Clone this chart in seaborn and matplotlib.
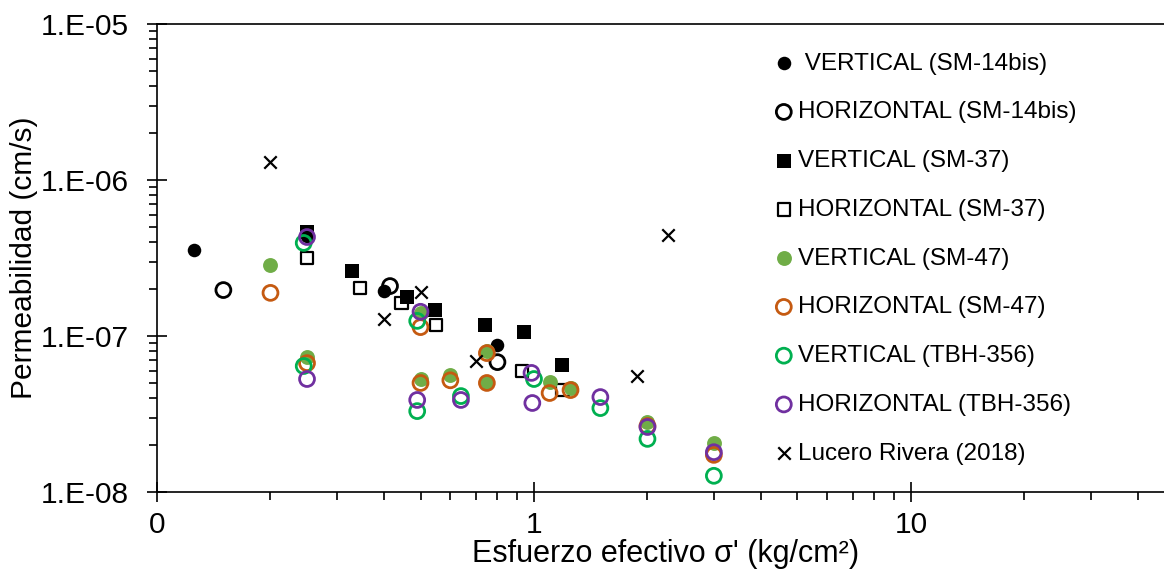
import numpy as np
import pandas as pd
import matplotlib
matplotlib.use("Agg")
import matplotlib.pyplot as plt
from matplotlib.ticker import LogLocator, FuncFormatter, NullFormatter
import seaborn as sns

# Permeability (cm/s) vs effective stress (kg/cm2), per sample and direction
v14_x = [0.125, 0.25, 0.40, 0.80]
v14_y = [3.56e-7, 4.4e-7, 1.94e-7, 8.8e-8]

h14_x = [0.15, 0.415, 0.80]
h14_y = [1.97e-7, 2.09e-7, 6.8e-8]

v37_x = [0.25, 0.33, 0.46, 0.545, 0.74, 0.94, 1.19]
v37_y = [4.64e-7, 2.61e-7, 1.78e-7, 1.47e-7, 1.18e-7, 1.06e-7, 6.5e-8]

h37_x = [0.25, 0.345, 0.445, 0.55, 0.93, 1.19]
h37_y = [3.16e-7, 2.03e-7, 1.63e-7, 1.18e-7, 5.97e-8, 4.5e-8]

v47_x = [0.20, 0.25, 0.50, 0.50, 0.60, 0.75, 0.75, 1.10, 1.25, 2.0, 3.0]
v47_y = [2.85e-7, 7.3e-8, 1.41e-7, 5.3e-8, 5.62e-8, 8.0e-8, 5.07e-8, 5.1e-8, 4.64e-8, 2.81e-8, 2.06e-8]

h47_x = [0.20, 0.25, 0.50, 0.50, 0.60, 0.75, 0.75, 1.10, 1.25, 2.0, 3.0]
h47_y = [1.89e-7, 6.7e-8, 1.14e-7, 5.0e-8, 5.2e-8, 7.77e-8, 5.0e-8, 4.31e-8, 4.5e-8, 2.65e-8, 1.73e-8]

vtbh_x = [0.245, 0.245, 0.49, 0.49, 0.64, 1.0, 1.5, 2.0, 3.0]
vtbh_y = [3.95e-7, 6.42e-8, 1.25e-7, 3.3e-8, 4.12e-8, 5.3e-8, 3.45e-8, 2.19e-8, 1.27e-8]

htbh_x = [0.25, 0.25, 0.50, 0.49, 0.64, 0.985, 0.99, 1.5, 2.0, 3.0]
htbh_y = [4.31e-7, 5.3e-8, 1.43e-7, 3.89e-8, 3.89e-8, 5.8e-8, 3.72e-8, 4.06e-8, 2.61e-8, 1.8e-8]

lr_x = [0.20, 0.40, 0.50, 0.70, 2.27, 1.88]
lr_y = [1.3e-6, 1.29e-7, 1.91e-7, 6.9e-8, 4.44e-7, 5.55e-8]

labels = [" VERTICAL (SM-14bis)", "HORIZONTAL (SM-14bis)", "VERTICAL (SM-37)",
          "HORIZONTAL (SM-37)", "VERTICAL (SM-47)", "HORIZONTAL (SM-47)",
          "VERTICAL (TBH-356)", "HORIZONTAL (TBH-356)", "Lucero Rivera (2018)"]

sns.set_style("white")
plt.rcParams["font.family"] = ["Liberation Sans", "DejaVu Sans"]
plt.rcParams["text.color"] = "black"
plt.rcParams["axes.labelcolor"] = "black"

fig = plt.figure(figsize=(11.64, 5.71), dpi=100)
ax = fig.add_axes([157 / 1164, 79 / 571, 1 - 157 / 1164, 468 / 571])

series = [
    (v14_x, v14_y, dict(marker="o", s=95, color="black", edgecolor="black", linewidth=0)),
    (h14_x, h14_y, dict(marker="o", s=115, facecolor="none", edgecolor="black", linewidth=2.0)),
    (v37_x, v37_y, dict(marker="s", s=95, color="black", edgecolor="black", linewidth=0)),
    (h37_x, h37_y, dict(marker="s", s=80, facecolor="none", edgecolor="black", linewidth=1.6)),
    (v47_x, v47_y, dict(marker="o", s=115, color="#70AD47", edgecolor="#70AD47", linewidth=0)),
    (h47_x, h47_y, dict(marker="o", s=115, facecolor="none", edgecolor="#C55A11", linewidth=2.0)),
    (vtbh_x, vtbh_y, dict(marker="o", s=115, facecolor="none", edgecolor="#00B050", linewidth=2.0)),
    (htbh_x, htbh_y, dict(marker="o", s=115, facecolor="none", edgecolor="#7030A0", linewidth=2.0)),
    (lr_x, lr_y, dict(marker="x", s=80, color="black", linewidth=1.6)),
]

for (xs, ys, style), lab in zip(series, labels):
    df = pd.DataFrame({"x": xs, "y": ys})
    sns.scatterplot(data=df, x="x", y="y", ax=ax, label=lab, **style)

ax.set_xscale("log")
ax.set_yscale("log")
ax.set_xlim(0.1, 46.9)
ax.set_ylim(1e-8, 1e-5)

ax.xaxis.set_major_locator(LogLocator(base=10, numticks=10))
ax.xaxis.set_minor_locator(LogLocator(base=10, subs=np.arange(2, 10), numticks=20))
ax.yaxis.set_major_locator(LogLocator(base=10, numticks=10))
ax.yaxis.set_minor_locator(LogLocator(base=10, subs=np.arange(2, 10), numticks=20))
ax.xaxis.set_major_formatter(FuncFormatter(lambda v, p: f"{v:.0f}"))
ax.yaxis.set_major_formatter(FuncFormatter(lambda v, p: f"1.E-{int(round(-np.log10(v))):02d}"))
ax.xaxis.set_minor_formatter(NullFormatter())
ax.yaxis.set_minor_formatter(NullFormatter())

for side in ["left", "bottom", "top"]:
    ax.spines[side].set_visible(True)
    ax.spines[side].set_color("black")
    ax.spines[side].set_linewidth(1.2)
ax.spines["right"].set_visible(False)

ax.tick_params(which="major", direction="inout", length=14, width=1.2,
               labelsize=21.5, colors="black", pad=7, top=False, right=False,
               bottom=True, left=True)
ax.tick_params(which="minor", direction="out", length=6, width=1.2,
               colors="black", top=False, right=False, bottom=True, left=True)
ax.tick_params(axis="y", which="major", pad=13)

ax.set_xlabel("Esfuerzo efectivo σ' (kg/cm²)", fontsize=22, color="black")
ax.set_ylabel("Permeabilidad (cm/s)", fontsize=21.5, color="black")
ax.xaxis.set_label_coords(0.505, -0.1)
ax.yaxis.set_label_coords(-0.118, 0.5)

leg = ax.legend(loc="upper left", bbox_to_anchor=(0.614, 0.939), frameon=False,
                fontsize=17.5, handlelength=0.7, handletextpad=0.25,
                labelspacing=1.1, borderaxespad=0, borderpad=0)
for t in leg.get_texts():
    t.set_color("black")

fig.savefig("out.png", dpi=100, facecolor="white")
